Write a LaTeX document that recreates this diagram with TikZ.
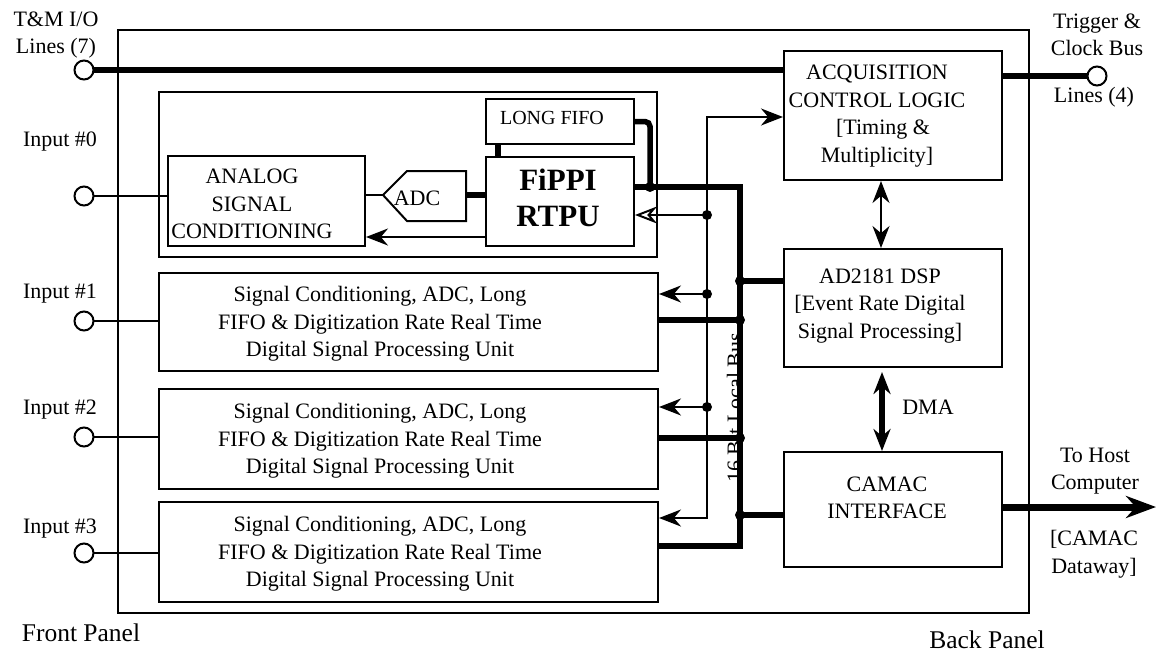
\documentclass[tikz,border=0pt]{standalone}
\usepackage{fontspec}
\setmainfont{Liberation Serif}
\usetikzlibrary{arrows.meta,calc}
\begin{document}
\begin{tikzpicture}[x=1pt,y=-1pt,
  box/.style={draw,line width=2pt,inner sep=0pt,anchor=north west},
  thin/.style={line width=2pt},
  thick/.style={line width=5.5pt},
  junc/.style={circle,fill=black,inner sep=0pt,minimum size=10pt},
  port/.style={circle,draw,line width=2pt,fill=white,inner sep=0pt,minimum size=19pt},
  txt/.style={font=\fontsize{22}{27.5}\selectfont,align=center,inner sep=0pt},
  big/.style={font=\fontsize{25.5}{30}\selectfont,inner sep=0pt},
  tip/.style={-{Stealth[length=22pt,width=17pt]}},
  opentip/.style={-{Stealth[length=22pt,width=17pt,open]}},
  both/.style={{Stealth[length=22pt,width=17pt]}-{Stealth[length=22pt,width=17pt]}},
]
\useasboundingbox (0,0) rectangle (1157,653);

% ---------- boxes ----------
\node[box,minimum width=911pt,minimum height=583pt] (board) at (117,29) {};
\node[box,minimum width=498pt,minimum height=165pt] (grp) at (158,91) {};
\node[box,minimum width=197pt,minimum height=90pt] (asc) at (167,155) {};
\node[box,minimum width=148pt,minimum height=45pt] (fifo) at (485,98) {};
\node[box,minimum width=148pt,minimum height=89pt] (fippi) at (485,156) {};
\node[box,minimum width=499pt,minimum height=98pt] (m1) at (158,272) {};
\node[box,minimum width=499pt,minimum height=100pt] (m2) at (158,388) {};
\node[box,minimum width=499pt,minimum height=100pt] (m3) at (158,501) {};
\node[box,minimum width=218pt,minimum height=129pt] (acq) at (783,50) {};
\node[box,minimum width=218pt,minimum height=118pt] (dsp) at (783,248) {};
\node[box,minimum width=218pt,minimum height=115pt] (camac) at (783,451) {};

% ADC block (pentagon pointing left)
\coordinate (adcL) at (383,195);
\coordinate (adcR) at (466,195);
\draw[thin,line join=miter] (adcL) -- (407,171) -- (466,171) -- (466,221) -- (407,221) -- cycle;

% ---------- texts ----------
\node[txt] (tmlbl) at (56,35) {T\&M I/O\\Lines (7)};
\node[txt] (trlbl) at (1097,35) {Trigger \&\\Clock Bus};
\node[txt] (trlbl2) at (1094,97) {Lines (4)};
\node[txt] (i0lbl) at (60,142) {Input \#0};
\node[txt] (i1lbl) at (60,294) {Input \#1};
\node[txt] (i2lbl) at (60,410) {Input \#2};
\node[txt] (i3lbl) at (60,529) {Input \#3};
\node[txt] (asctxt) at (252,204) {ANALOG\\SIGNAL\\CONDITIONING};
\node[txt] (adctxt) at (417,198) {ADC};
\node[font=\fontsize{20}{24}\selectfont,inner sep=0pt] (fifotxt) at (552,118) {LONG FIFO};
\node[font=\bfseries\fontsize{31}{36}\selectfont,align=center,inner sep=0pt] (fippitxt) at (558,198) {FiPPI\\RTPU};
\node[txt] (m1txt) at (380,324) {Signal Conditioning, ADC, Long\\FIFO \& Digitization Rate Real Time\\Digital Signal Processing Unit};
\node[txt] (m2txt) at (380,441) {Signal Conditioning, ADC, Long\\FIFO \& Digitization Rate Real Time\\Digital Signal Processing Unit};
\node[txt] (m3txt) at (380,554) {Signal Conditioning, ADC, Long\\FIFO \& Digitization Rate Real Time\\Digital Signal Processing Unit};
\node[txt] (acqtxt) at (877,116) {ACQUISITION\\CONTROL LOGIC\\{}\hspace{12pt}[Timing \&\\Multiplicity]};
\node[txt] (dsptxt) at (880,306) {AD2181 DSP\\{}[Event Rate Digital\\Signal Processing]};
\node[txt] (camactxt) at (887,498) {CAMAC\\INTERFACE};
\node[txt] (dmatxt) at (928,407) {DMA};
\node[txt] (hosttxt) at (1095,471) {To Host\\Computer};
\node[txt] (dwtxt) at (1094,554) {{}[CAMAC\\Dataway]};
\node[big] (fptxt) at (81,633) {Front Panel};
\node[big] (bptxt) at (987,640) {Back Panel};
\node[txt,rotate=90,anchor=base] (bustxt) at (742,408) {16 Bit Local Bus};

% ---------- ports ----------
\coordinate (tm) at (84,70);
\coordinate (in0) at (84,196);
\coordinate (in1) at (84,321);
\coordinate (in2) at (84,437);
\coordinate (in3) at (84,553);
\coordinate (trig) at (1097,76);

\draw[thick] (tm) -- (tm -| acq.west);
\draw[thick] (trig -| acq.east) -- (trig);
\draw[thin] (in0) -- (in0 -| asc.west);
\draw[thin] (in1) -- (in1 -| m1.west);
\draw[thin] (in2) -- (in2 -| m2.west);
\draw[thin] (in3) -- (in3 -| m3.west);

% ---------- channel 0 internals ----------
\draw[thin] (adcL -| asc.east) -- (adcL);
\draw[thick] (adcR) -- (adcR -| fippi.west);
\coordinate (lk) at (498,150);
\draw[thick] (lk |- fifo.south) -- (lk |- fippi.north);
\coordinate (ret) at (0,237);
\draw[thin,tip] (ret -| fippi.west) -- (ret -| asc.east);

% ---------- local bus ----------
\coordinate (j0) at (650,187);
\draw[thick,rounded corners=5pt] (fifo.east) -- (fifo.east -| j0) -- (j0);
\coordinate (bt) at (740,187);
\coordinate (bb) at (740,546);
\draw[thick] (bt -| fippi.east) -- (bt) -- (bb) -- (bb -| m3.east);
\coordinate (bd) at (740,281);
\coordinate (b1) at (740,320);
\coordinate (b2) at (740,438);
\coordinate (bc) at (740,515);
\draw[thick] (bd) -- (bd -| dsp.west);
\draw[thick] (b1 -| m1.east) -- (b1);
\draw[thick] (b2 -| m2.east) -- (b2);
\draw[thick] (bc) -- (bc -| camac.west);

% ---------- control line ----------
\coordinate (ct) at (707,117);
\coordinate (cb) at (707,518);
\coordinate (c0) at (707,215);
\coordinate (c1) at (707,294);
\coordinate (c2) at (707,407);
\draw[thin,both] (cb -| m3.east) -- (cb) -- (ct) -- (ct -| acq.west);
\draw[thin,opentip] (c0) -- (c0 -| fippi.east);
\draw[thin,tip] (c1) -- (c1 -| m1.east);
\draw[thin,tip] (c2) -- (c2 -| m2.east);

% junction dots
\foreach \p in {j0,c0,c1,c2,bd,b1,b2,bc} \node[junc] at (\p) {};

% ---------- back-side links ----------
\coordinate (ax) at (881,0);
\draw[thin,both] (acq.south -| ax) -- (dsp.north -| ax);
\coordinate (dx) at (882,0);
\draw[thick,both,shorten <=4pt] (dsp.south -| dx) -- (camac.north -| dx);
\coordinate (host) at (1156,507);
\draw[line width=7pt,-{Stealth[length=30pt,width=22pt]}] (host -| camac.east) -- (host);

% port circles on top
\foreach \p in {tm,in0,in1,in2,in3,trig} \node[port] at (\p) {};
\end{tikzpicture}
\end{document}
